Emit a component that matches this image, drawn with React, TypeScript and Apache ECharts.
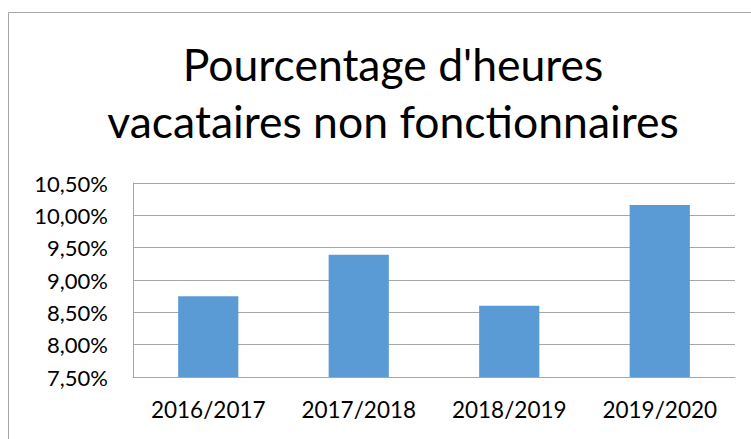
import React, { useEffect, useRef } from "react";
import * as echarts from "echarts";

const categories = ["2016/2017", "2017/2018", "2018/2019", "2019/2020"];
const values = [8.75, 9.39, 8.6, 10.16];
const titleText = "Pourcentage d'heures\nvacataires non fonctionnaires";

export default function App() {
  const ref = useRef<HTMLDivElement>(null);
  useEffect(() => {
    document.body.style.margin = "0";
    const chart = echarts.init(ref.current!, null, { renderer: "svg" });
    chart.setOption({
      animation: false,
      backgroundColor: "#ffffff",
      title: {
        text: titleText,
        left: 388,
        top: 30,
        textAlign: "center",
        textStyle: {
          fontFamily: "Lato",
          fontSize: 44.5,
          fontWeight: "normal",
          color: "#000000",
          lineHeight: 57,
        },
      },
      graphic: [
        {
          type: "rect",
          shape: { x: 8.5, y: 12.5, width: 800, height: 500 },
          style: { fill: "none", stroke: "#a6a6a6", lineWidth: 1 },
          silent: true,
        },
      ],
      grid: { left: 133, right: 16, top: 183, bottom: 62 },
      xAxis: {
        type: "category",
        data: categories,
        axisTick: { show: false },
        axisLine: { lineStyle: { color: "#a6a6a6", width: 1 } },
        axisLabel: {
          fontFamily: "Lato",
          fontSize: 22.5,
          color: "#000000",
          margin: 21,
        },
      },
      yAxis: {
        type: "value",
        min: 7.5,
        max: 10.5,
        interval: 0.5,
        axisLine: { show: true, lineStyle: { color: "#a6a6a6", width: 1 } },
        axisTick: { show: false },
        splitLine: { lineStyle: { color: "#a6a6a6", width: 1 } },
        axisLabel: {
          fontFamily: "Lato",
          fontSize: 22,
          color: "#000000",
          margin: 25,
          formatter: (v: number) => v.toFixed(2).replace(".", ",") + "%",
        },
      },
      series: [
        {
          type: "bar",
          data: values,
          barWidth: "40%",
          itemStyle: { color: "#5b9bd5" },
        },
      ],
    });
    return () => chart.dispose();
  }, []);
  return <div ref={ref} style={{ width: 751, height: 439 }} />;
}
